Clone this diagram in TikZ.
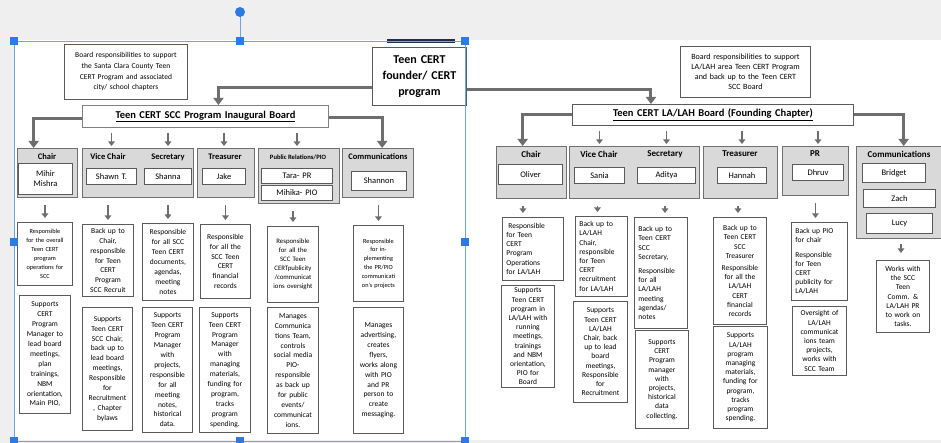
\documentclass[tikz,border=0pt]{standalone}
\usepackage{fontspec}
\setmainfont{Carlito}
\usetikzlibrary{arrows.meta}
\definecolor{grpfill}{HTML}{D9D9D9}
\definecolor{grpline}{HTML}{707070}
\definecolor{boxline}{HTML}{5A5A5A}
\definecolor{conncol}{HTML}{6E6E6E}
\definecolor{selblue}{HTML}{2C7BE5}
\definecolor{selline}{HTML}{6FA3E8}
\definecolor{bggray}{HTML}{EFEFEF}
\definecolor{navybar}{HTML}{1F2D4D}
\tikzset{
  wbox/.style={draw=boxline, line width=0.9pt, fill=white, inner xsep=4pt, inner ysep=1pt, align=center},
  grp/.style={draw=grpline, line width=1.3pt, fill=grpfill},
  namebox/.style={draw=boxline, line width=1pt, font=\fontsize{8.5}{10}\selectfont},
  hdr/.style={font=\bfseries\fontsize{8.5}{10}\selectfont, inner sep=0pt},
  rhdr/.style={font=\bfseries\fontsize{9}{10}\selectfont, inner sep=0pt},
  detl/.style={font=\fontsize{7.5}{9.9}\selectfont},
  detr/.style={font=\fontsize{7.5}{9.2}\selectfont},
  lft/.style={align=left},
  conn/.style={draw=conncol, line width=3pt, -{Triangle[length=7pt,width=10pt]}},
  sarr/.style={draw=conncol, line width=1.7pt, -{Triangle[length=4.5pt,width=6.5pt]}},
  handle/.style={fill=selblue},
}
\newcommand\mybox[7][]{%
  \pgfmathsetmacro\bxw{#5-#3}%
  \pgfmathsetmacro\bxh{#6-#4}%
  \pgfmathsetmacro\bxt{#5-#3-8}%
  \node[wbox,minimum width=\bxw pt,minimum height=\bxh pt,text width=\bxt pt,anchor=north west,#1] (#2) at (#3,#4) {#7};}
\newcommand\selhandle[2]{\fill[handle] (#1-4,#2-4) rectangle (#1+4,#2+4);}
\begin{document}
\begin{tikzpicture}[x=1pt,y=-1pt]
\useasboundingbox (0,0) rectangle (941,443);
\fill[bggray] (0,0) rectangle (941,443);
\fill[white] (14,40) rectangle (941,440);

% ---------- top boxes ----------
\mybox[font=\fontsize{7.5}{10.7}\selectfont]{resp1}{64}{44}{187}{99}{Board responsibilities to support\\the Santa Clara County Teen\\CERT Program and associated\\city/ school chapters}
\fill[navybar] (387,39) rectangle (455,43);
\mybox[font=\bfseries\fontsize{12}{16}\selectfont]{founder}{372}{47}{466}{105}{Teen CERT\\founder/ CERT\\program}
\mybox[font=\fontsize{8}{10}\selectfont]{resp2}{680}{46}{810}{97}{Board responsibilities to support\\LA/LAH area Teen CERT Program\\and back up to the Teen CERT\\SCC Board}

\mybox[font=\bfseries\fontsize{10.5}{12}\selectfont, draw=gray]{board1}{82}{105}{328}{127}{\underline{Teen CERT SCC Program Inaugural Board}}
\mybox[font=\bfseries\fontsize{10.5}{12}\selectfont]{board2}{572}{104}{853}{125}{\underline{Teen CERT LA/LAH Board (Founding Chapter)}}

% ---------- left groups ----------
\mybox[grp]{gc}{17}{148}{77}{197}{}
\mybox[grp]{gvs}{82}{148}{193}{197}{}
\mybox[grp]{gt}{197}{148}{254}{197}{}
\mybox[grp]{gp}{258}{148}{339}{203}{}
\mybox[grp]{gm}{342}{148}{413}{197}{}

\node[hdr] (lc) at (47,157) {Chair};
\node[hdr] (lv) at (108,157) {Vice Chair};
\node[hdr] (ls) at (168,157) {Secretary};
\node[hdr] (lt) at (225,157) {Treasurer};
\node[hdr, font=\bfseries\fontsize{6.6}{8}\selectfont] (lp) at (298,157) {Public Relations/PIO};
\node[hdr] (lm) at (378,157) {Communications};

\mybox[namebox]{mihir}{18}{163}{72}{194}{Mihir\\Mishra}
\mybox[namebox]{shawn}{86}{168}{136}{184}{Shawn T.}
\mybox[namebox]{shanna}{144}{168}{191}{184}{Shanna}
\mybox[namebox]{jake}{202}{168}{245}{184}{Jake}
\mybox[namebox]{tara}{261}{168}{332}{183}{Tara- PR}
\mybox[namebox]{mihika}{261}{185}{332}{200}{Mihika- PIO}
\mybox[namebox]{shannon}{351}{171}{406}{190}{Shannon}

% ---------- right groups ----------
\mybox[grp]{rgc}{496}{146}{566}{198}{}
\mybox[grp]{rgvs}{569}{146}{699}{198}{}
\mybox[grp]{rgt}{703}{146}{777}{198}{}
\mybox[grp]{rgp}{782}{146}{848}{195}{}
\mybox[grp]{rgm}{856}{146}{946}{238}{}

\node[rhdr] (rlc) at (531,154) {Chair};
\node[rhdr] (rlv) at (599,154) {Vice Chair};
\node[rhdr] (rls) at (665,154) {Secretary};
\node[rhdr] (rlt) at (740,154) {Treasurer};
\node[rhdr] (rlp) at (815,154) {PR};
\node[rhdr] (rlm) at (899,154) {Communications};

\mybox[namebox]{oliver}{498}{164}{562}{184}{Oliver}
\mybox[namebox]{sania}{574}{167}{624}{183}{Sania}
\mybox[namebox]{aditya}{637}{167}{695}{183}{Aditya}
\mybox[namebox]{hannah}{717}{167}{766}{183}{Hannah}
\mybox[namebox]{dhruv}{792}{164}{843}{180}{Dhruv}
\mybox[namebox]{bridget}{862}{163}{925}{182}{Bridget}
\mybox[namebox]{zach}{863}{189}{935}{207}{Zach}
\mybox[namebox]{lucy}{866}{213}{932}{233}{Lucy}

% ---------- left details ----------
\mybox[font=\fontsize{6.3}{9}\selectfont]{c1}{17}{222}{72}{285}{Responsible\\for the overall\\Teen CERT\\program\\operations for\\SCC}
\mybox[detl]{v1}{82}{224}{133}{296}{Back up to\\Chair,\\responsible\\for Teen\\CERT\\Program\\SCC Recruit}
\mybox[detl]{s1}{142}{223}{193}{300}{Responsible\\for all SCC\\Teen CERT\\documents,\\agendas,\\meeting\\notes}
\mybox[detl]{t1}{200}{224}{250}{298}{Responsible\\for all the\\SCC Teen\\CERT\\financial\\records}
\mybox[font=\fontsize{6.8}{9}\selectfont]{p1}{267}{226}{318}{302}{Responsible\\for all the\\SCC Teen\\CERTpublicity\\/communicat\\ions oversight}
\mybox[font=\fontsize{6.3}{8.8}\selectfont]{m1}{353}{225}{403}{301}{Responsible\\for in-\\plementing\\the PR/PIO\\communicati\\on's projects}

\mybox[detl]{c2}{19}{295}{70}{413}{Supports\\CERT\\Program\\Manager to\\lead board\\meetings,\\plan\\trainings,\\NBM\\orientation,\\Main PIO,}
\mybox[detl]{v2}{82}{307}{132}{430}{Supports\\Teen CERT\\SCC Chair,\\back up to\\lead board\\meetings,\\Responsible\\for\\Recruitment\\, Chapter\\bylaws}
\mybox[detl]{s2}{142}{307}{192}{432}{Supports\\Teen CERT\\Program\\Manager\\with\\projects,\\responsible\\for all\\meeting\\notes,\\historical\\data.}
\mybox[detl]{t2}{199}{307}{250}{432}{Supports\\Teen CERT\\Program\\Manager\\with\\managing\\materials,\\funding for\\program,\\tracks\\program\\spending.}
\mybox[detl]{p2}{267}{307}{318}{433}{Manages\\Communica\\tions Team,\\controls\\social media\\PIO-\\responsible\\as back up\\for public\\events/\\communicat\\ions.}
\mybox[detl]{m2}{353}{307}{403}{433}{Manages\\advertising,\\creates\\flyers,\\works along\\with PIO\\and PR\\person to\\create\\messaging.}

% ---------- right details ----------
\mybox[detr,lft]{rc1}{502}{217}{563}{280}{\hspace*{2pt}Responsible\\for Teen\\CERT\\Program\\Operations\\for LA/LAH}
\mybox[detr,lft]{rv1}{575}{216}{627}{296}{Back up to\\LA/LAH\\Chair,\\responsible\\for Teen\\CERT\\recruitment\\for LA/LAH}
\mybox[detr,lft]{rs1}{634}{217}{687}{328}{Back up to\\Teen CERT\\SCC\\Secretary,\\[5pt]Responsible\\for all\\LA/LAH\\meeting\\agendas/\\notes}
\mybox[detr]{rt1}{713}{217}{766}{324}{Back up to\\Teen CERT\\SCC\\Treasurer\\[3pt]Responsible\\for all the\\LA/LAH\\CERT\\financial\\records}
\mybox[detr,lft]{rp1}{791}{222}{847}{300}{Back up PIO\\for chair\\[5pt]Responsible\\for Teen\\CERT\\publicity for\\LA/LAH}
\mybox[detr]{rm1}{876}{260}{929}{332}{Works with\\the SCC\\Teen\\Comm. \&\\LA/LAH PR\\to work on\\tasks.}

\mybox[detr]{rc2}{501}{285}{554}{387}{Supports\\Teen CERT\\program in\\LA/LAH with\\running\\meetings,\\trainings\\and NBM\\orientation,\\PIO for\\Board}
\mybox[detr]{rv2}{573}{301}{627}{402}{Supports\\Teen CERT\\LA/LAH\\Chair, back\\up to lead\\board\\meetings,\\Responsible\\for\\Recruitment}
\mybox[detr]{rs2}{635}{330}{688}{428}{Supports\\CERT\\Program\\manager\\with\\projects,\\historical\\data\\collecting.}
\mybox[detr]{rt2}{713}{326}{767}{428}{Supports\\LA/LAH\\program\\managing\\materials,\\funding for\\program,\\tracks\\program\\spending.}
\mybox[detr]{rp2}{792}{306}{846}{375}{Oversight of\\LA/LAH\\communicat\\ions team\\projects,\\works with\\SCC Team}

% ---------- main connectors ----------
\draw[conn] ([yshift=-11pt]founder.west) -| ([xshift=13pt]board1.north);
\draw[conn] ([yshift=-13pt]founder.east) -| ([xshift=-62pt]board2.north);
\draw[conn] ([yshift=-2pt]board1.west) -| ([xshift=-14pt]gc.north);
\draw[conn] ([yshift=-1pt]board1.east) -| ([xshift=4pt]gm.north);
\draw[conn] (board2.west) -| ([xshift=-9pt]rgc.north);
\draw[conn] (board2.east) -| ([xshift=2pt]rgm.north);

% ---------- small arrows board -> groups ----------
\foreach \na/\ga in {shawn/gvs, shanna/gvs, jake/gt, tara/gp}
  \draw[sarr, shorten <=5pt, shorten >=2pt] (board1.south -| \na.north) -- (\ga.north -| \na.north);
\foreach \na/\ga in {sania/rgvs, aditya/rgvs, hannah/rgt, dhruv/rgp}
  \draw[sarr, shorten <=5pt, shorten >=2pt] (board2.south -| \na.north) -- (\ga.north -| \na.north);

% ---------- small arrows groups -> details ----------
\foreach \ga/\db in {gc/c1, gvs/v1, gvs/s1, gt/t1, gp/p1, gm/m1}
  \draw[sarr, shorten <=7pt, shorten >=4pt] (\ga.south -| \db.north) -- (\db.north);
\draw[sarr, shorten <=7pt, shorten >=4pt] ([xshift=-10pt]rgc.south -| rc1.north) -- ([xshift=-10pt]rc1.north);
\draw[sarr, shorten <=7pt, shorten >=4pt] ([xshift=-4pt]rgvs.south -| rv1.north) -- ([xshift=-4pt]rv1.north);
\draw[sarr, shorten <=7pt, shorten >=4pt] ([xshift=4pt]rgvs.south -| rs1.north) -- ([xshift=4pt]rs1.north);
\draw[sarr, shorten <=7pt, shorten >=4pt] ([xshift=-2pt]rgt.south -| rt1.north) -- ([xshift=-2pt]rt1.north);
\draw[sarr, shorten <=7pt, shorten >=4pt] ([xshift=-4pt]rgp.south -| rp1.north) -- ([xshift=-4pt]rp1.north);
\draw[sarr, shorten <=5pt, shorten >=7pt] ([xshift=-2pt]rgm.south -| rm1.north) -- ([xshift=-2pt]rm1.north);

% ---------- selection frame ----------
\draw[selline, line width=0.9pt] (14,41) rectangle (465,441);
\draw[selline, line width=0.9pt] (240,16) -- (240,41);
\fill[selblue] (240,12) circle (5);
\selhandle{14}{41}\selhandle{240}{41}\selhandle{465}{41}
\selhandle{14}{242}\selhandle{465}{242}
\selhandle{14}{441}\selhandle{240}{441}\selhandle{465}{441}
\end{tikzpicture}
\end{document}
